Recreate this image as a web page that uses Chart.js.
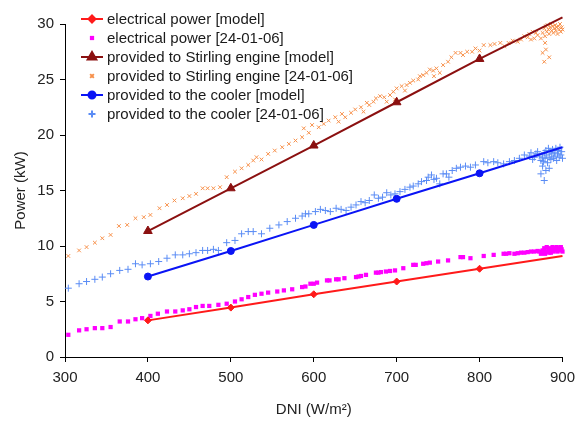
<!DOCTYPE html>
<html>
<head>
<meta charset="utf-8">
<script src="https://cdn.jsdelivr.net/npm/chart.js@4.4.0/dist/chart.umd.min.js"></script>
<style>
  html, body { margin: 0; padding: 0; background: #fff; }
  #wrap { width: 582px; height: 423px; }
</style>
</head>
<body>
<div id="wrap"><canvas id="power_chart" width="582" height="423"></canvas></div>
<script>
// model curves, one point per 100 W/m2
var dniModel = [400, 500, 600, 700, 800, 900];
var elecModel = [3.3, 4.45, 5.65, 6.8, 7.95, 9.1];
var stirlingModel = [11.35, 15.2, 19.05, 22.95, 26.85, 30.6];
var coolerModel = [7.25, 9.55, 11.9, 14.25, 16.55, 18.9];

// measurements of 24-01-06
var dniElec = [304, 317, 326, 336, 345, 355, 366, 376, 385, 393, 403, 412, 423, 433, 442, 450, 458, 466, 474, 485,
    495, 505, 513, 521, 529, 537, 545, 556, 564, 574, 586, 590, 596, 600, 604, 616, 619, 627, 630, 637, 651, 654,
    657, 663, 675, 678, 681, 687, 692, 698, 708, 720, 723, 732, 736, 740, 750, 762, 777, 780, 789, 805, 817, 829,
    832, 836, 842, 846, 850, 854, 858, 862, 866, 870, 872, 874,
    876, 878, 879, 880, 881, 883, 884, 885, 886, 887, 888, 889, 890, 891, 892, 893, 894, 895, 896, 897, 898, 899, 900, 901];
var elecMeas = [2.0, 2.4, 2.5, 2.6, 2.6, 2.7, 3.2, 3.2, 3.4, 3.5, 3.7, 3.9, 4.1, 4.1, 4.2, 4.3, 4.5, 4.6, 4.6, 4.7,
    4.8, 5.0, 5.2, 5.4, 5.6, 5.7, 5.8, 5.9, 6.0, 6.1, 6.3, 6.35, 6.6, 6.6, 6.7, 6.9, 6.9, 7.0, 7.0, 7.1, 7.2, 7.25,
    7.3, 7.4, 7.6, 7.6, 7.65, 7.7, 7.75, 7.8, 8.0, 8.3, 8.3, 8.4, 8.45, 8.5, 8.6, 8.7, 9.0, 9.0, 8.9, 9.1, 9.2, 9.3,
    9.3, 9.35, 9.3, 9.35, 9.4, 9.4, 9.45, 9.5, 9.5, 9.55, 9.5, 9.3,
    9.6, 9.8, 9.3, 9.5, 9.9, 9.7, 9.4, 9.8, 9.4, 9.6, 9.9, 9.5, 9.7, 9.8, 9.6, 9.9, 9.5, 9.7, 9.8, 9.6, 9.9, 9.7, 9.5, 9.8];

var dniStir = [304, 317, 326, 336, 345, 355, 365, 375, 385, 395, 403, 414, 423, 432, 442, 450, 458, 466, 472, 479,
    487, 495, 505, 513, 521, 527, 531, 537, 545, 553, 562, 570, 578, 586, 588, 594, 598, 606, 612, 618, 626, 630,
    634, 638, 645, 650, 657, 660, 664, 667, 672, 675, 680, 685, 688, 692, 696, 698, 700, 706, 710, 712, 716, 720,
    726, 728, 732, 736, 740, 744, 745, 748, 752, 756, 762, 766, 771, 777, 780, 785, 791, 795, 800, 805, 813, 818,
    825, 830, 835, 840, 846, 850, 854, 858, 860, 862, 864, 866, 868, 870, 874,
    876, 876, 878, 878, 879, 879, 880, 880, 881, 882, 883, 884, 884, 885, 886, 887, 888, 889, 890, 891, 892, 893,
    894, 895, 896, 897, 898, 899, 900, 901, 902];
var stirMeas = [9.1, 9.6, 9.9, 10.3, 10.7, 11.0, 11.8, 11.9, 12.5, 12.6, 12.8, 13.4, 13.7, 14.1, 14.3, 14.5, 14.7, 15.2, 15.2, 15.2,
    15.3, 16.2, 16.7, 17.0, 17.3, 17.7, 18.0, 17.8, 18.3, 18.6, 18.9, 19.2, 19.5, 19.8, 20.6, 20.2, 20.9, 20.7, 21.0, 21.3, 21.6, 21.2,
    21.9, 21.6, 22.0, 22.3, 22.5, 22.1, 22.9, 22.7, 23.0, 23.3, 23.5, 23.4, 23.0, 23.6, 23.9, 23.2, 24.2, 24.4, 24.0, 24.5, 24.7, 24.9,
    25.0, 25.3, 25.4, 25.6, 25.9, 25.8, 25.3, 26.0, 25.6, 26.3, 26.6, 27.0, 27.4, 27.4, 27.2, 27.5, 27.5, 27.8, 27.6, 28.1, 28.1, 28.2,
    28.3, 28.0, 28.3, 28.5, 28.4, 28.6, 28.9, 28.8, 29.1, 28.6, 29.3, 28.7, 29.2, 29.0, 28.7,
    29.2, 27.4, 29.6, 26.6, 28.9, 28.3, 29.8, 27.7, 29.3, 29.9, 29.5, 29.1, 27.0, 29.7, 30.0, 29.4, 29.8, 29.2, 29.6, 29.9, 29.4, 29.7,
    29.1, 29.8, 29.5, 30.0, 29.3, 29.7, 29.5, 29.9, 29.4];

var dniCool = [304, 317, 326, 336, 345, 355, 366, 376, 385, 393, 403, 413, 423, 433, 442, 450, 458, 466, 472, 479,
    485, 495, 505, 513, 521, 527, 537, 547, 558, 568, 578, 586, 590, 594, 602, 608, 614, 620, 627, 633, 639, 645,
    651, 657, 662, 667, 673, 678, 683, 688, 693, 698, 704, 710, 716, 720, 726, 730, 736, 738, 742, 745, 748, 752,
    756, 760, 763, 767, 772, 777, 783, 789, 795, 805, 810, 817, 822, 829, 836, 842, 848, 854, 860, 862, 864, 866,
    868, 870, 872, 874, 874,
    876, 876, 877, 878, 878, 879, 880, 880, 881, 882, 883, 884, 884, 885, 886, 887, 888, 889, 890, 891, 892, 893,
    894, 895, 896, 897, 898, 899, 900, 901, 902];
var coolMeas = [6.2, 6.6, 6.8, 7.0, 7.2, 7.5, 7.8, 7.9, 8.4, 8.3, 8.4, 8.6, 8.9, 9.2, 9.2, 9.3, 9.4, 9.6, 9.6, 9.7,
    9.6, 10.3, 10.5, 11.1, 11.3, 11.3, 11.1, 11.6, 11.9, 12.2, 12.5, 12.7, 12.9, 12.9, 13.1, 13.3, 13.2, 13.1, 13.4, 13.3, 13.2, 13.5,
    13.7, 14.0, 13.9, 14.1, 14.6, 14.3, 14.4, 14.8, 14.6, 14.7, 14.9, 15.1, 15.3, 15.4, 15.6, 15.8, 15.9, 16.2, 16.4, 16.0, 16.1, 15.6,
    16.5, 16.5, 16.2, 16.8, 17.0, 17.1, 17.2, 17.1, 17.3, 17.6, 17.5, 17.6, 17.5, 17.4, 17.6, 17.7, 17.9, 18.2, 18.1, 18.4, 17.8, 18.0,
    18.3, 18.5, 18.1, 17.7, 16.5,
    18.0, 17.2, 17.6, 18.4, 15.9, 17.9, 18.6, 16.8, 18.2, 17.5, 18.8, 18.0, 17.0, 18.5, 17.8, 18.3, 18.7, 17.9, 18.4, 18.1, 18.8, 17.7,
    18.3, 18.6, 18.0, 18.9, 18.2, 18.5, 17.9, 18.7, 18.3];

var seriesNames = [
    "electrical power [model]",
    "electrical power [24-01-06]",
    "provided to Stirling engine [model]",
    "provided to Stirling engine [24-01-06]",
    "provided to the cooler [model]",
    "provided to the cooler [24-01-06]"
];

var FONT = "'Liberation Sans', Arial, sans-serif";

function toPoints(xs, ys) {
    return xs.map(function (x, i) { return { x: x, y: ys[i] }; });
}

function modelSet(label, ys, color, style, radius) {
    return {
        label: label,
        data: toPoints(dniModel, ys),
        showLine: true,
        borderColor: color,
        backgroundColor: color,
        borderWidth: 2,
        tension: 0,
        pointStyle: style,
        pointRadius: [radius, radius, radius, radius, radius, 0],
        pointBorderWidth: 1,
        clip: false,
        order: 0
    };
}

function measuredSet(label, xs, ys, color, style, radius, bw) {
    return {
        label: label,
        data: toPoints(xs, ys),
        showLine: false,
        borderColor: color,
        backgroundColor: color,
        pointStyle: style,
        pointRadius: radius,
        pointBorderWidth: bw,
        clip: false,
        order: 1
    };
}

var datasets = [
    modelSet(seriesNames[0], elecModel, "#ff1a1a", "rectRot", 3.5),
    measuredSet(seriesNames[1], dniElec, elecMeas, "#ff00ff", "rect", 3, 0),
    modelSet(seriesNames[2], stirlingModel, "#8b1010", "triangle", 5),
    measuredSet(seriesNames[3], dniStir, stirMeas, "#f7904a", "crossRot", 2.6, 1),
    modelSet(seriesNames[4], coolerModel, "#0a14f5", "circle", 3.5),
    measuredSet(seriesNames[5], dniCool, coolMeas, "#5a8cf5", "cross", 3.5, 1)
];

// legend drawn inside the plot, top left
var insideLegend = {
    id: "insideLegend",
    afterDraw: function (chart) {
        var ctx = chart.ctx;
        var x0 = 81, x1 = 103, tx = 107;
        var rows = [19, 38, 57, 76, 95, 114];
        ctx.save();
        chart.data.datasets.forEach(function (ds, i) {
            var y = rows[i];
            var r = Array.isArray(ds.pointRadius) ? ds.pointRadius[0] : ds.pointRadius;
            if (ds.showLine) {
                ctx.strokeStyle = ds.borderColor;
                ctx.lineWidth = 2;
                ctx.beginPath();
                ctx.moveTo(x0, y);
                ctx.lineTo(x1, y);
                ctx.stroke();
            }
            ctx.fillStyle = ds.backgroundColor;
            ctx.strokeStyle = ds.borderColor;
            Chart.helpers.drawPoint(ctx, {
                pointStyle: ds.pointStyle,
                radius: r,
                borderWidth: ds.pointBorderWidth,
                rotation: 0
            }, (x0 + x1) / 2, y);
            ctx.fillStyle = "#1a1a1a";
            ctx.font = "15px " + FONT;
            ctx.textBaseline = "middle";
            ctx.textAlign = "left";
            ctx.fillText(ds.label, tx, y + 1);
        });
        ctx.restore();
    }
};

new Chart(document.getElementById("power_chart").getContext("2d"), {
    type: "scatter",
    data: { datasets: datasets },
    plugins: [insideLegend],
    options: {
        responsive: false,
        animation: false,
        layout: { padding: { left: 0, top: 24, right: 17, bottom: 0 } },
        plugins: {
            legend: { display: false },
            tooltip: { enabled: false }
        },
        scales: {
            x: {
                type: "linear",
                min: 300,
                max: 900,
                border: { color: "#000", width: 1 },
                grid: { drawOnChartArea: false, drawTicks: true, tickLength: 5, color: "#000" },
                ticks: { stepSize: 100, padding: 7, color: "#222", font: { family: FONT, size: 15 } },
                title: {
                    display: true,
                    text: "DNI (W/m²)",
                    color: "#222",
                    font: { family: FONT, size: 15 },
                    padding: { top: 0, bottom: 4 }
                },
                afterFit: function (s) { s.height = 66; }
            },
            y: {
                min: 0,
                max: 30,
                border: { color: "#000", width: 1 },
                grid: { drawOnChartArea: false, drawTicks: true, tickLength: 5, color: "#000" },
                ticks: { stepSize: 5, padding: 6, color: "#222", font: { family: FONT, size: 15 } },
                title: {
                    display: true,
                    text: "Power (kW)",
                    color: "#222",
                    font: { family: FONT, size: 15 },
                    padding: { top: 12, bottom: 0 }
                },
                afterFit: function (s) { s.width = 65; }
            }
        }
    }
});
</script>
</body>
</html>
